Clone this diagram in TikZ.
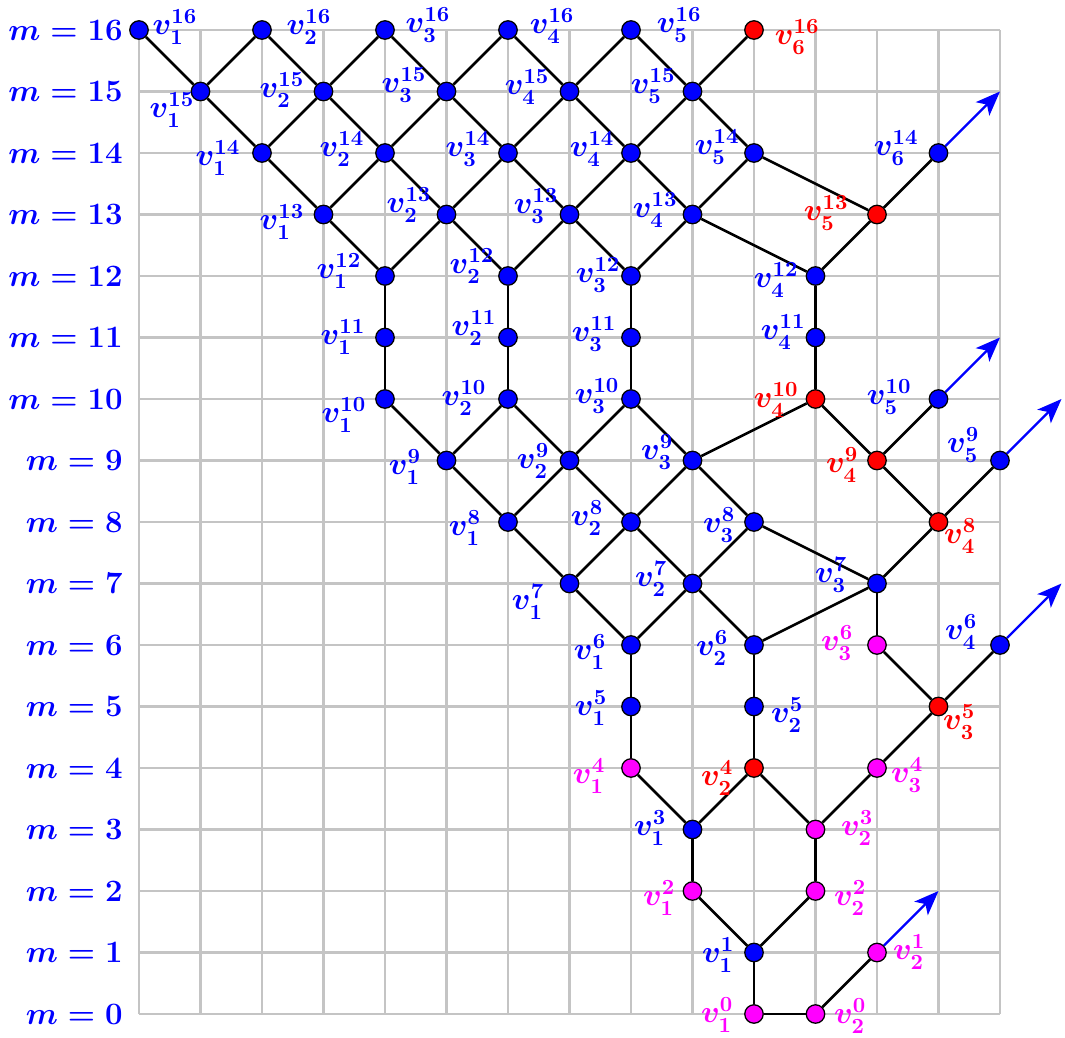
\documentclass[tikz,border=0pt]{standalone}
\usetikzlibrary{arrows.meta}
\definecolor{gridgray}{RGB}{196,196,196}
\definecolor{vblue}{RGB}{0,0,255}
\definecolor{vred}{RGB}{255,0,0}
\definecolor{vmag}{RGB}{255,0,255}
\begin{document}
\begin{tikzpicture}[
  gridline/.style={draw=gridgray, line width=1pt},
  edge/.style={draw=black, line width=1.2pt},
  arr/.style={draw=vblue, line width=1pt, -{Stealth[length=4mm,width=3.1mm,inset=1mm]}},
  vtx/.style={circle, draw=black, line width=0.6pt, minimum size=0.3cm, inner sep=0pt},
  vb/.style={vtx, fill=vblue},
  vr/.style={vtx, fill=vred},
  vm/.style={vtx, fill=vmag},
  lab/.style={font=\Large\boldmath, inner sep=0pt, anchor=center},
  mlab/.style={font=\Large\boldmath, inner sep=0pt, anchor=east, text=vblue}
]
\useasboundingbox (-2.26,-0.374) rectangle (15.057,16.488);
\draw[gridline] (0,0) grid (14,16);

% m labels
\foreach \m in {0,...,16} { \node[mlab] (m\m) at (-0.26,\m) {$m=\m$}; }

% vertices
\node[vb] (v1m16) at (0,16) {};
\node[vb] (v2m16) at (2,16) {};
\node[vb] (v3m16) at (4,16) {};
\node[vb] (v4m16) at (6,16) {};
\node[vb] (v5m16) at (8,16) {};
\node[vr] (v6m16) at (10,16) {};
\node[vb] (v1m15) at (1,15) {};
\node[vb] (v2m15) at (3,15) {};
\node[vb] (v3m15) at (5,15) {};
\node[vb] (v4m15) at (7,15) {};
\node[vb] (v5m15) at (9,15) {};
\node[vb] (v1m14) at (2,14) {};
\node[vb] (v2m14) at (4,14) {};
\node[vb] (v3m14) at (6,14) {};
\node[vb] (v4m14) at (8,14) {};
\node[vb] (v5m14) at (10,14) {};
\node[vb] (v6m14) at (13,14) {};
\node[vb] (v1m13) at (3,13) {};
\node[vb] (v2m13) at (5,13) {};
\node[vb] (v3m13) at (7,13) {};
\node[vb] (v4m13) at (9,13) {};
\node[vr] (v5m13) at (12,13) {};
\node[vb] (v1m12) at (4,12) {};
\node[vb] (v2m12) at (6,12) {};
\node[vb] (v3m12) at (8,12) {};
\node[vb] (v4m12) at (11,12) {};
\node[vb] (v1m11) at (4,11) {};
\node[vb] (v2m11) at (6,11) {};
\node[vb] (v3m11) at (8,11) {};
\node[vb] (v4m11) at (11,11) {};
\node[vb] (v1m10) at (4,10) {};
\node[vb] (v2m10) at (6,10) {};
\node[vb] (v3m10) at (8,10) {};
\node[vr] (v4m10) at (11,10) {};
\node[vb] (v5m10) at (13,10) {};
\node[vb] (v1m9) at (5,9) {};
\node[vb] (v2m9) at (7,9) {};
\node[vb] (v3m9) at (9,9) {};
\node[vr] (v4m9) at (12,9) {};
\node[vb] (v5m9) at (14,9) {};
\node[vb] (v1m8) at (6,8) {};
\node[vb] (v2m8) at (8,8) {};
\node[vb] (v3m8) at (10,8) {};
\node[vr] (v4m8) at (13,8) {};
\node[vb] (v1m7) at (7,7) {};
\node[vb] (v2m7) at (9,7) {};
\node[vb] (v3m7) at (12,7) {};
\node[vb] (v1m6) at (8,6) {};
\node[vb] (v2m6) at (10,6) {};
\node[vm] (v3m6) at (12,6) {};
\node[vb] (v4m6) at (14,6) {};
\node[vb] (v1m5) at (8,5) {};
\node[vb] (v2m5) at (10,5) {};
\node[vr] (v3m5) at (13,5) {};
\node[vm] (v1m4) at (8,4) {};
\node[vr] (v2m4) at (10,4) {};
\node[vm] (v3m4) at (12,4) {};
\node[vb] (v1m3) at (9,3) {};
\node[vm] (v2m3) at (11,3) {};
\node[vm] (v1m2) at (9,2) {};
\node[vm] (v2m2) at (11,2) {};
\node[vb] (v1m1) at (10,1) {};
\node[vm] (v2m1) at (12,1) {};
\node[vm] (v1m0) at (10,0) {};
\node[vm] (v2m0) at (11,0) {};

% arrow ends
\coordinate (e1) at (13,2);
\coordinate (e2) at (15,7);
\coordinate (e3) at (15,10);
\coordinate (e4) at (14,11);
\coordinate (e5) at (14,15);

% edges
\foreach \a/\b in {
 v1m0/v2m0, v1m0/v1m1, v2m0/v2m1,
 v1m1/v1m2, v1m1/v2m2,
 v1m2/v1m3, v2m2/v2m3,
 v1m3/v1m4, v1m3/v2m4, v2m3/v2m4, v2m3/v3m4,
 v1m4/v1m5, v2m4/v2m5, v3m4/v3m5,
 v1m5/v1m6, v2m5/v2m6, v3m5/v3m6, v3m5/v4m6,
 v1m6/v1m7, v1m6/v2m7, v2m6/v2m7, v2m6/v3m7, v3m6/v3m7,
 v1m7/v1m8, v1m7/v2m8, v2m7/v2m8, v2m7/v3m8, v3m7/v3m8, v3m7/v4m8,
 v1m8/v1m9, v1m8/v2m9, v2m8/v2m9, v2m8/v3m9, v3m8/v3m9, v4m8/v4m9, v4m8/v5m9,
 v1m9/v1m10, v1m9/v2m10, v2m9/v2m10, v2m9/v3m10, v3m9/v3m10, v3m9/v4m10, v4m9/v4m10, v4m9/v5m10,
 v1m10/v1m11, v2m10/v2m11, v3m10/v3m11, v4m10/v4m11,
 v1m11/v1m12, v2m11/v2m12, v3m11/v3m12, v4m11/v4m12,
 v1m12/v1m13, v1m12/v2m13, v2m12/v2m13, v2m12/v3m13, v3m12/v3m13, v3m12/v4m13, v4m12/v4m13, v4m12/v5m13,
 v1m13/v1m14, v1m13/v2m14, v2m13/v2m14, v2m13/v3m14, v3m13/v3m14, v3m13/v4m14, v4m13/v4m14, v4m13/v5m14, v5m13/v5m14, v5m13/v6m14,
 v1m14/v1m15, v1m14/v2m15, v2m14/v2m15, v2m14/v3m15, v3m14/v3m15, v3m14/v4m15, v4m14/v4m15, v4m14/v5m15, v5m14/v5m15,
 v1m15/v1m16, v1m15/v2m16, v2m15/v2m16, v2m15/v3m16, v3m15/v3m16, v3m15/v4m16, v4m15/v4m16, v4m15/v5m16, v5m15/v5m16, v5m15/v6m16}
 { \draw[edge] (\a) -- (\b); }

% arrows
\draw[arr] (v2m1) -- (e1);
\draw[arr] (v4m6) -- (e2);
\draw[arr] (v5m9) -- (e3);
\draw[arr] (v5m10) -- (e4);
\draw[arr] (v6m14) -- (e5);

% vertex labels (pixel coordinates)
\begin{scope}[x=0.01626016cm, y=-0.01626016cm, shift={(-139,-1014)}]
\foreach \i/\m/\px/\py/\c in {
 1/16/175/27/vblue, 2/16/309/27/vblue, 3/16/428/25/vblue, 4/16/552/26/vblue, 5/16/679/25/vblue, 6/16/797/37/vred,
 1/15/172/110/vblue, 2/15/282/90/vblue, 3/15/404/85/vblue, 4/15/527/87/vblue, 5/15/653/86/vblue,
 1/14/218/158/vblue, 2/14/342/149/vblue, 3/14/468/149/vblue, 4/14/592/149/vblue, 5/14/717/147/vblue, 6/14/896/148/vblue,
 1/13/282/222/vblue, 2/13/409/205/vblue, 3/13/536/206/vblue, 4/13/655/210/vblue, 5/13/826/213/vred,
 1/12/339/271/vblue, 2/12/472/266/vblue, 3/12/598/275/vblue, 4/12/776/280/vblue,
 1/11/343/337/vblue, 2/11/474/328/vblue, 3/11/594/334/vblue, 4/11/783/332/vblue,
 1/10/344/415/vblue, 2/10/464/398/vblue, 3/10/597/396/vblue, 4/10/776/400/vred, 5/10/889/397/vblue,
 1/9/405/467/vblue, 2/9/533/461/vblue, 3/9/657/452/vblue, 4/9/842/465/vred, 5/9/963/445/vblue,
 1/8/465/528/vblue, 2/8/587/518/vblue, 3/8/719/525/vblue, 4/8/960/536/vred,
 1/7/528/602/vblue, 2/7/651/579/vblue, 3/7/831/575/vblue,
 1/6/590/652/vblue, 2/6/712/648/vblue, 3/6/837/643/vmag, 4/6/961/632/vblue,
 1/5/591/708/vblue, 2/5/787/715/vblue, 3/5/959/722/vred,
 1/4/589/776/vmag, 2/4/717/778/vred, 3/4/907/775/vmag,
 1/3/650/828/vblue, 2/3/857/828/vmag,
 1/2/659/898/vmag, 2/2/850/898/vmag,
 1/1/718/955/vblue, 2/1/909/952/vmag,
 1/0/717/1015/vmag, 2/0/850/1016/vmag}
 { \node[lab, text=\c] (l\i m\m) at (\px,\py) {$v_{\i}^{\m}$}; }
\end{scope}
\end{tikzpicture}
\end{document}
